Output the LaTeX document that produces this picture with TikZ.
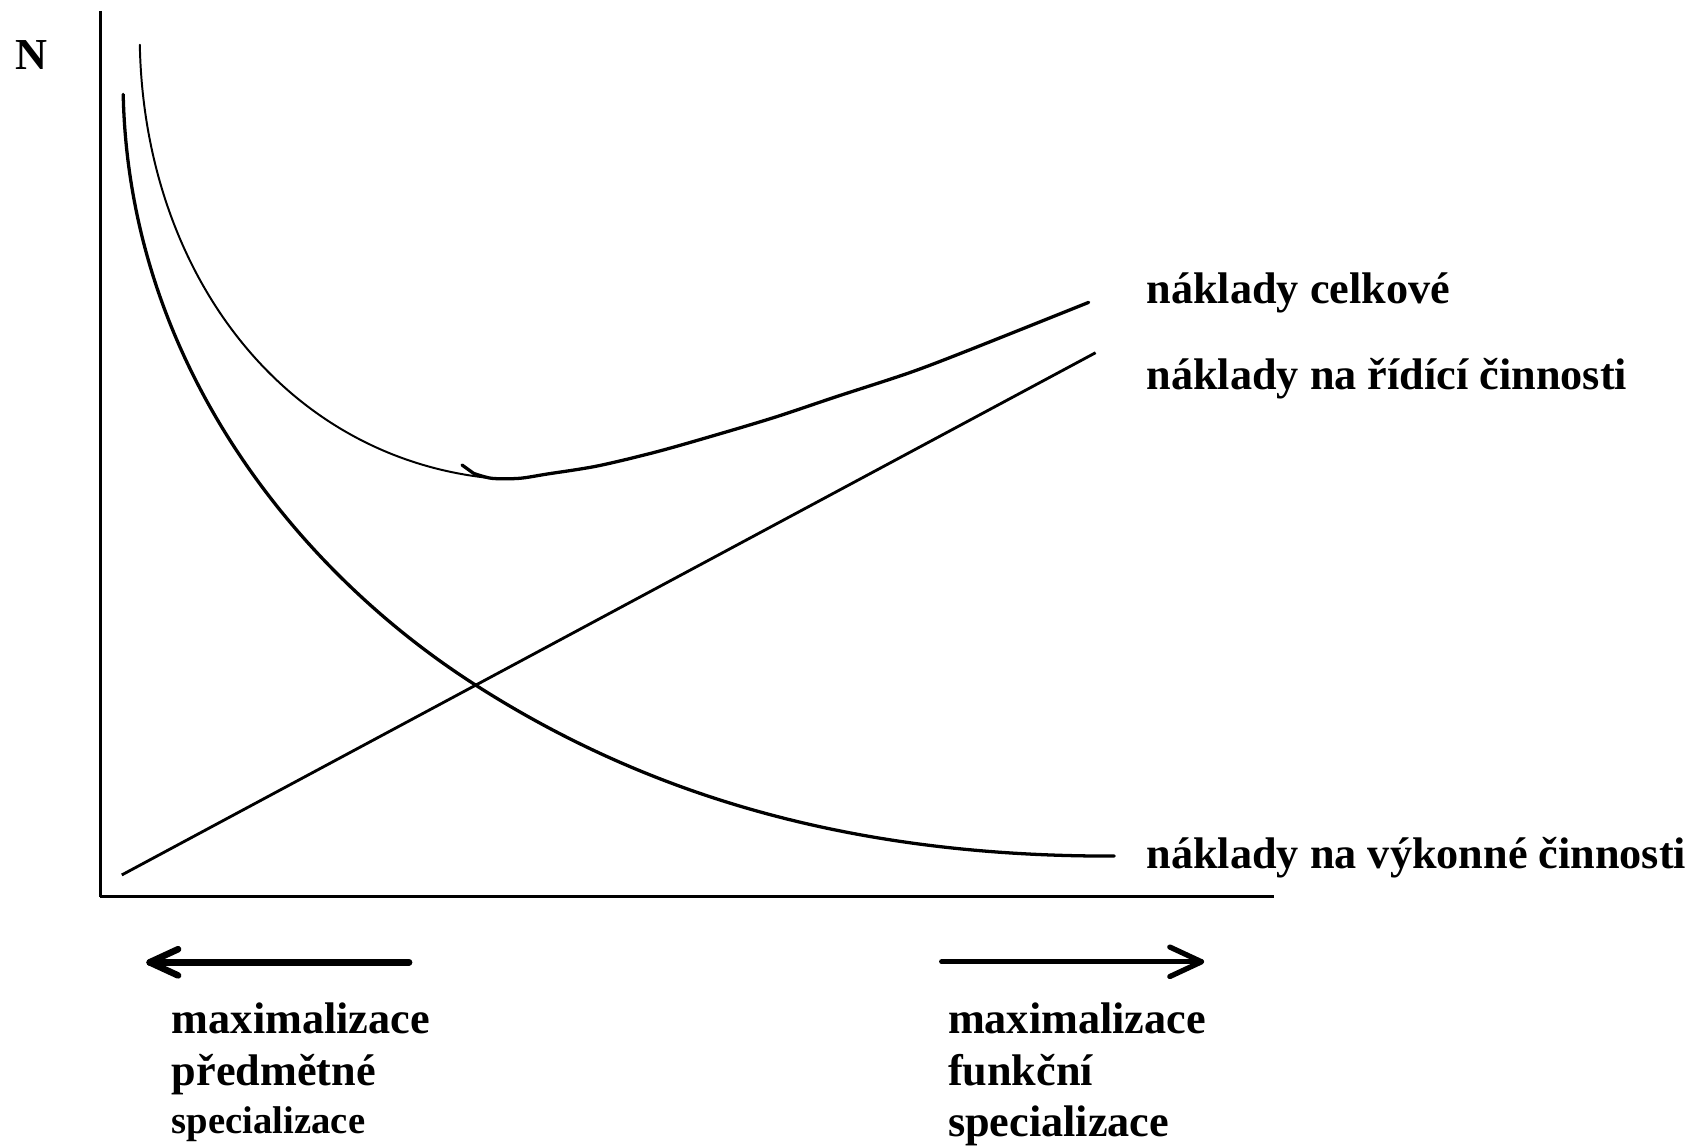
\documentclass[tikz,border=0pt]{standalone}
\usepackage{fontspec}
\setmainfont{Liberation Serif}
\begin{document}
\begin{tikzpicture}[x=1pt,y=-1pt,
  lbl/.style={anchor=base west, inner sep=0pt, font=\bfseries\fontsize{40.5}{48}\selectfont},
  lblsmall/.style={anchor=base west, inner sep=0pt, font=\bfseries\fontsize{35.4}{42}\selectfont},
  axisline/.style={line width=2pt},
  thincurve/.style={line width=1.8pt, line cap=round},
  thickcurve/.style={line width=3pt, line cap=round, line join=round},
  arrowline/.style={line cap=round, line join=round}]
\useasboundingbox (0,0) rectangle (1560,1049.2);

% axes
\coordinate (ytop) at (92,10);
\coordinate (O) at (92,821);
\coordinate (xend) at (1166,821);
\draw[axisline] (ytop) -- (O);
\draw[line width=2.6pt] (O) -- (xend);

% naklady na vykonne cinnosti
\coordinate (vs) at (112.8,86.4);
\coordinate (vm) at (435.3,627.1);
\coordinate (ve) at (1020,783.7);
\draw[thickcurve] (vs) .. controls (118,330) and (270,521.5) .. (vm)
                       .. controls (585.3,723.1) and (770,784.5) .. (ve);

% naklady celkove
\coordinate (cs) at (128,41);
\coordinate (cm) at (452,438);
\draw[thincurve] (cs) .. controls (132,250) and (260,420) .. (cm);
\draw[thickcurve] (423,425.7) -- (433.5,433.3);
\draw[thickcurve] plot[smooth] coordinates {(433.5,433.3) (450.2,437.9) (475.5,437.9) (500.7,434) (546.9,426.6) (601.6,413.5) (660.5,396.7) (710.9,381.5) (765.5,363.2) (832.7,341.2) (887.4,320.4) (996.7,276.8)};

% naklady na ridici cinnosti
\coordinate (rs) at (111.5,801);
\coordinate (re) at (1003,322.9);
\draw[line width=2.6pt] (rs) -- (re);

% arrows
\coordinate (ltail) at (374.5,881);
\coordinate (ltip) at (137,881);
\draw[arrowline, line width=6.1pt] (ltail) -- (ltip);
\draw[arrowline, line width=6pt] (163,869) -- (ltip) -- (163,893);
\coordinate (rtail) at (862,880.5);
\coordinate (rtip) at (1100,880.5);
\draw[arrowline, line width=4.6pt] (rtail) -- (rtip);
\draw[arrowline, line width=4.8pt] (1071,867) -- (rtip) -- (1071,894);

% labels
\node[lbl] (N) at (14,64) {N};
\node[lbl] (lc) at (1049.5,277.7) {náklady celkové};
\node[lbl] (lr) at (1049.5,356.4) {náklady na řídící činnosti};
\node[lbl] (lv) at (1049.5,795) {náklady na výkonné činnosti};
\node[lbl] (l1) at (157.2,946) {maximalizace};
\node[lbl] (l2) at (157.2,993.3) {předmětné};
\node[lblsmall] (l3) at (157.2,1037.6) {specializace};
\node[lbl] (r1) at (867.7,946) {maximalizace};
\node[lbl] (r2) at (867.7,993.3) {funkční};
\node[lbl] (r3) at (867.7,1040.6) {specializace};
\end{tikzpicture}
\end{document}
